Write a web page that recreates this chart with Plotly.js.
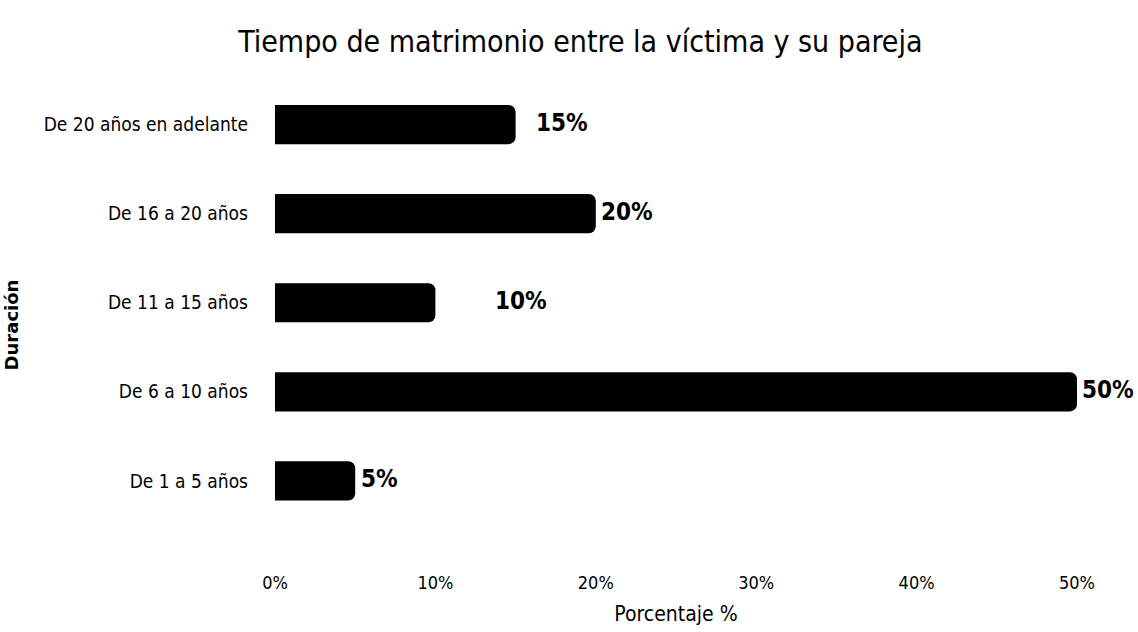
<!DOCTYPE html>
<html>
<head>
<meta charset="utf-8">
<script src="https://cdn.plot.ly/plotly-3.0.1.min.js"></script>
<style>html,body{margin:0;padding:0;background:#fff;}#chart{width:1138px;height:632px;}</style>
</head>
<body>
<div id="chart"></div>
<script>
const categories = ["De 1 a 5 años", "De 6 a 10 años", "De 11 a 15 años", "De 16 a 20 años", "De 20 años en adelante"];
const values = [5, 50, 10, 20, 15];
const valueLabels = ["5%", "50%", "10%", "20%", "15%"];
const xTickValues = [0, 10, 20, 30, 40, 50];
const xTickLabels = ["0%", "10%", "20%", "30%", "40%", "50%"];

const labelShift = [4, 3, 58, 3, 18];
const fontCond = "'DejaVu Sans Condensed', 'DejaVu Sans', sans-serif";

const trace = {
  type: 'bar',
  orientation: 'h',
  y: categories,
  x: values,
  width: 0.44,
  marker: {color: '#000000', cornerradius: 7},
  hoverinfo: 'none'
};

const annotations = values.map((v, i) => ({
  x: v, y: categories[i], xref: 'x', yref: 'y',
  text: valueLabels[i], showarrow: false,
  xanchor: 'left', yanchor: 'middle', xshift: labelShift[i], yshift: 2,
  font: {family: fontCond, size: 24, color: '#000', weight: 'bold'}
}));

const layout = {
  width: 1138, height: 632,
  margin: {l: 275, r: 61, t: 80, b: 62},
  paper_bgcolor: '#fff', plot_bgcolor: '#fff',
  showlegend: false,
  title: {
    text: 'Tiempo de matrimonio entre la víctima y su pareja',
    x: 0.51, xanchor: 'center', y: 0.935, yanchor: 'middle',
    font: {family: fontCond, size: 30, color: '#000'}
  },
  xaxis: {
    range: [0, 50], tickvals: xTickValues, ticktext: xTickLabels,
    showgrid: false, zeroline: false, showline: false, ticks: '',
    tickfont: {family: fontCond, size: 18, color: '#000'},
    title: {text: 'Porcentaje %', font: {family: fontCond, size: 21, color: '#000'}, standoff: 14},
    fixedrange: true
  },
  yaxis: {
    type: 'category', range: [-1.0, 4.5],
    showgrid: false, zeroline: false, showline: false, ticks: '',
    ticklabelstandoff: 26,
    tickfont: {family: fontCond, size: 19, color: '#000'},
    title: {text: 'Duración', font: {family: "'DejaVu Sans', sans-serif", size: 18, color: '#000', weight: 'bold'}, standoff: 20},
    fixedrange: true
  },
  annotations: annotations
};

Plotly.newPlot('chart', [trace], layout, {displayModeBar: false, staticPlot: true});
</script>
</body>
</html>
